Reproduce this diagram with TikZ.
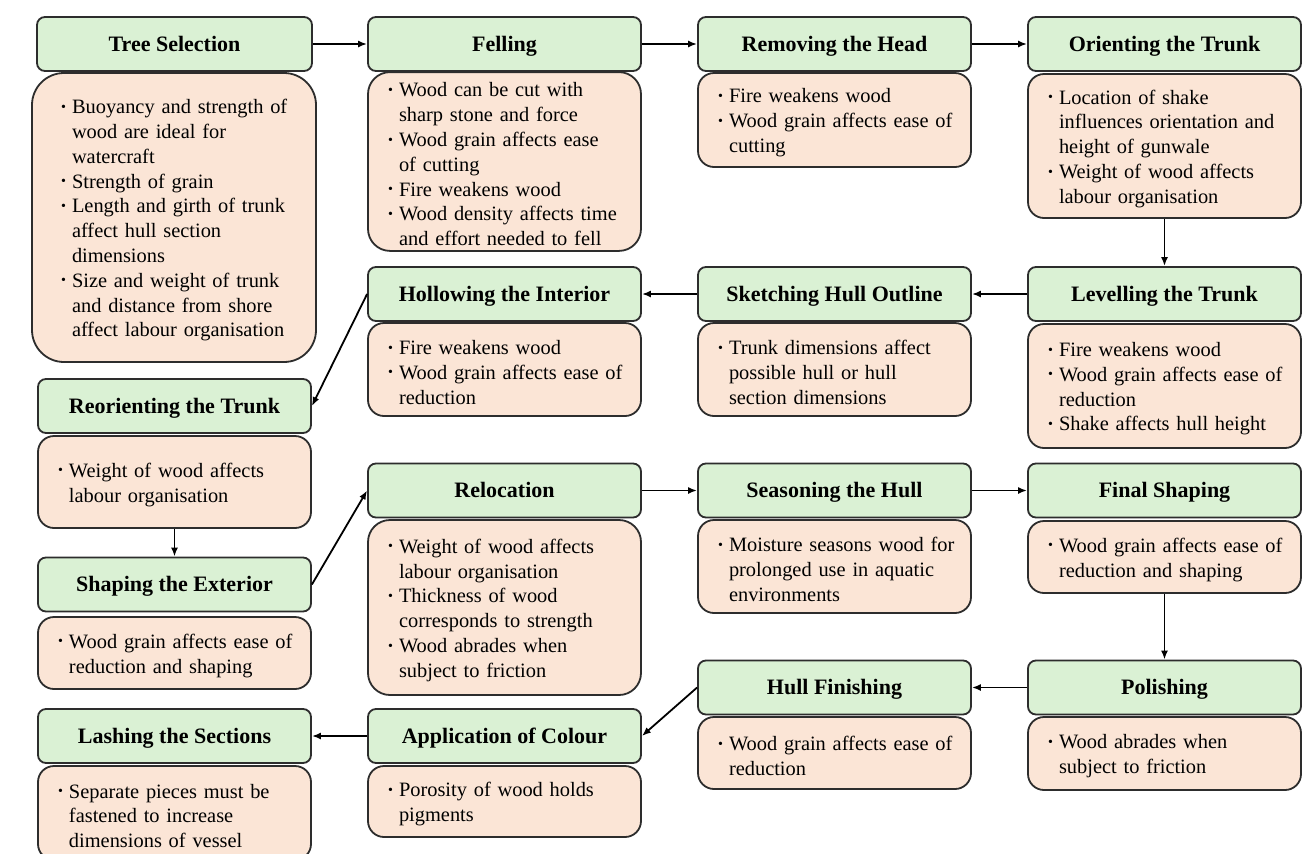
\documentclass[tikz,border=0pt]{standalone}
\usepackage{fontspec}
\setmainfont{Liberation Serif}
\usepackage{tikz}
\usetikzlibrary{arrows.meta}

\definecolor{stagegreen}{RGB}{218,241,212}
\definecolor{notepeach}{RGB}{251,229,214}
\definecolor{edge}{RGB}{45,45,45}

% one bullet with its lines hanging
\newlength{\bulskip}
\setlength{\bulskip}{11.5pt}
\newcommand{\bul}[1]{\par\noindent\leftskip=\bulskip\relax
  \llap{\makebox[5.5pt][l]{\raisebox{.25ex}{\scriptsize\textbullet}}}{\let\\\newline #1}\par}

\tikzset{
  stage/.style={draw=edge, line width=0.9pt, fill=stagegreen, rounded corners=4pt,
    minimum width=136.5pt, minimum height=27pt, inner sep=0pt,
    text height=10pt, text depth=2.7pt,
    font=\fontsize{11}{13}\selectfont\bfseries},
  notes/.style={draw=edge, line width=0.9pt, fill=notepeach, rounded corners=8pt,
    text width=128.5pt, inner xsep=4pt, inner ysep=0pt,
    font=\fontsize{10.2}{12.4}\selectfont,
    execute at end node={\par\vspace{2.5pt}}},
  flow/.style={draw=black, line width=0.9pt, -{Latex[length=4.5pt,width=3.5pt]}}
}

\begin{document}
\begin{tikzpicture}[x=0.5pt,y=-0.5pt]
        \useasboundingbox (0,0) rectangle (1313,853);
        \fill[white] (0,0) rectangle (1313,853);

        % first row
        \node[stage, minimum width=137.5pt] (sel) at (174.5,44) {Tree Selection};
        \node[notes, text width=134pt, rounded corners=16pt, minimum height=144.5pt] (selB) at (174,217.5) {%
            \setlength{\bulskip}{16pt}%
            \bul{Buoyancy and strength of\\ wood are ideal for\\ watercraft}
            \bul{Strength of grain}
            \bul{Length and girth of trunk\\ affect hull section\\ dimensions}
            \bul{Size and weight of trunk\\ and distance from shore\\ affect labour organisation}};

        \node[stage] (fell) at (504.5,44) {Felling};
        \node[notes, rounded corners=11pt, minimum height=88.5pt] (fellB) at (504.5,161.5) {%
            \bul{Wood can be cut with\\ sharp stone and force}
            \bul{Wood grain affects ease\\ of cutting}
            \bul{Fire weakens wood}
            \bul{Wood density affects time\\ and effort needed to fell}};

        \node[stage] (head) at (834.5,44) {Removing the Head};
        \node[notes, minimum height=47pt] (headB) at (834.5,120) {%
            \bul{Fire weakens wood}
            \bul{Wood grain affects ease of\\ cutting}};

        \node[stage] (orient) at (1164.5,44) {Orienting the Trunk};
        \node[notes, minimum height=72pt] (orientB) at (1164.5,146) {%
            \bul{Location of shake\\ influences orientation and\\ height of gunwale}
            \bul{Weight of wood affects\\ labour organisation}};

        % second row
        \node[stage] (level) at (1164.5,294) {Levelling the Trunk};
        \node[notes, minimum height=62pt] (levelB) at (1164.5,386) {%
            \bul{Fire weakens wood}
            \bul{Wood grain affects ease of\\ reduction}
            \bul{Shake affects hull height}};

        \node[stage] (sketch) at (834.5,294) {Sketching Hull Outline};
        \node[notes, minimum height=46.5pt] (sketchB) at (834.5,369.5) {%
            \bul{Trunk dimensions affect\\ possible hull or hull\\ section dimensions}};

        \node[stage] (hollow) at (504.5,294) {Hollowing the Interior};
        \node[notes, minimum height=46.5pt] (hollowB) at (504.5,369.5) {%
            \bul{Fire weakens wood}
            \bul{Wood grain affects ease of\\ reduction}};

        % left column
        \node[stage] (reorient) at (174.5,406) {Reorienting the Trunk};
        \node[notes, minimum height=46pt] (reorientB) at (174.5,482) {%
            \bul{Weight of wood affects\\ labour organisation}};

        \node[stage] (shape) at (174.5,584.5) {Shaping the Exterior};
        \node[notes, minimum height=36pt] (shapeB) at (174.5,653) {%
            \bul{Wood grain affects ease of\\ reduction and shaping}};

        % third row
        \node[stage] (reloc) at (504.5,490.5) {Relocation};
        \node[notes, rounded corners=11pt, minimum height=87.5pt] (relocB) at (504.5,607.5) {%
            \bul{Weight of wood affects\\ labour organisation}
            \bul{Thickness of wood\\ corresponds to strength}
            \bul{Wood abrades when\\ subject to friction}};

        \node[stage] (season) at (834.5,490.5) {Seasoning the Hull};
        \node[notes, minimum height=46.5pt] (seasonB) at (834.5,566.5) {%
            \bul{Moisture seasons wood for\\ prolonged use in aquatic\\ environments}};

        \node[stage] (final) at (1164.5,490.5) {Final Shaping};
        \node[notes, minimum height=36pt] (finalB) at (1164.5,557) {%
            \bul{Wood grain affects ease of\\ reduction and shaping}};

        % last row
        \node[stage] (polish) at (1164.5,687.5) {Polishing};
        \node[notes, minimum height=36.5pt] (polishB) at (1164.5,753.5) {%
            \bul{Wood abrades when\\ subject to friction}};

        \node[stage] (finish) at (834.5,687.5) {Hull Finishing};
        \node[notes, minimum height=36pt] (finishB) at (834.5,753) {%
            \bul{Wood grain affects ease of\\ reduction}};

        \node[stage] (colour) at (504.5,736) {Application of Colour};
        \node[notes, minimum height=35.5pt] (colourB) at (504.5,801.5) {%
            \bul{Porosity of wood holds\\ pigments}};

        \node[stage] (lash) at (174.5,736) {Lashing the Sections};
        \node[notes, minimum height=47pt] (lashB) at (174.5,813) {%
            \bul{Separate pieces must be\\ fastened to increase\\ dimensions of vessel}};

        % arrows
        \draw[flow] (sel) -- (fell);
        \draw[flow] (fell) -- (head);
        \draw[flow] (head) -- (orient);
        \draw[flow] (orientB) -- (level);
        \draw[flow] (level) -- (sketch);
        \draw[flow] (sketch) -- (hollow);
        \draw[flow] (hollow.west) -- (reorient.east);
        \draw[flow] (reorientB) -- (shape);
        \draw[flow] (shape.east) -- (reloc.west);
        \draw[flow] (reloc) -- (season);
        \draw[flow] (season) -- (final);
        \draw[flow] (finalB) -- (polish);
        \draw[flow] (polish) -- (finish);
        \draw[flow] (finish.west) -- (colour.east);
        \draw[flow] (colour) -- (lash);

    \end{tikzpicture}
\end{document}
